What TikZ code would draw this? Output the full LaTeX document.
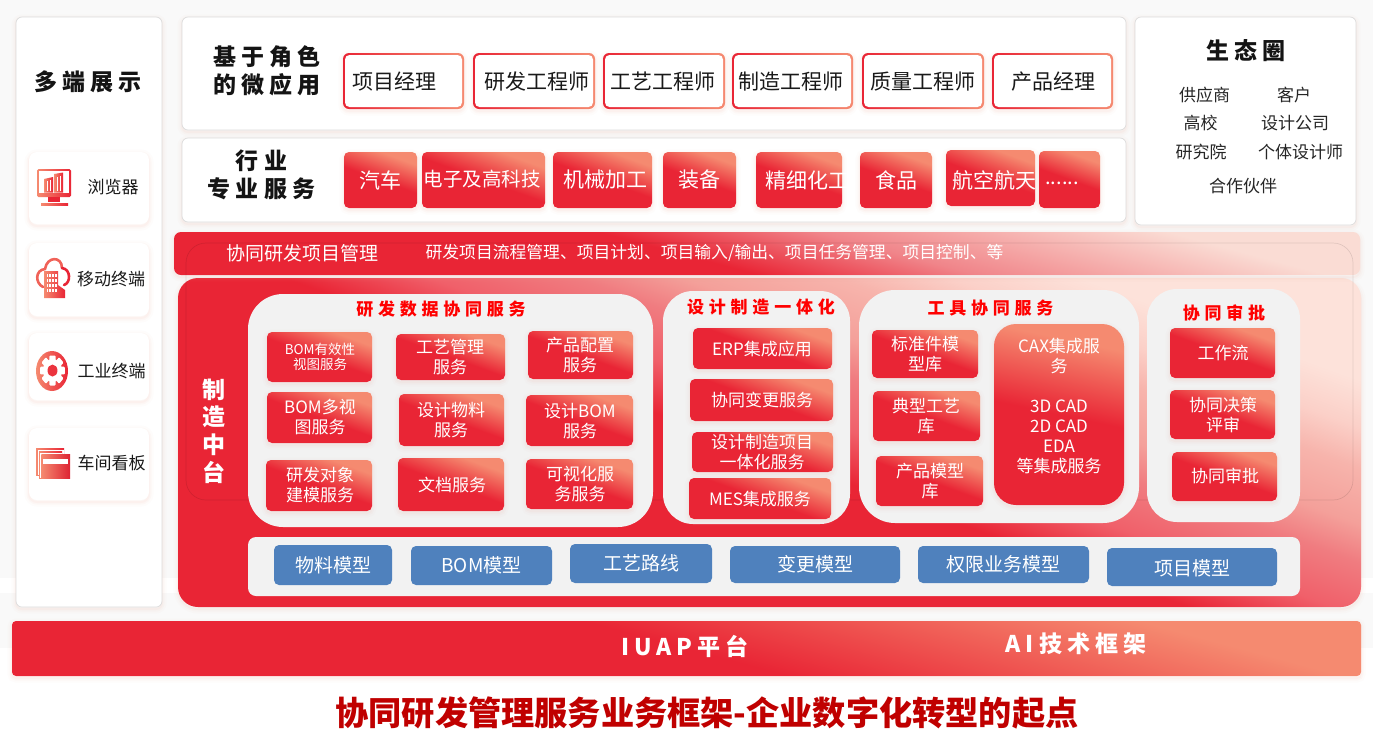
\documentclass[tikz,border=0pt]{standalone}
\usepackage{fontspec}
\setmainfont{Noto Sans CJK SC}
\definecolor{redm}{HTML}{E92535}
\definecolor{coral}{HTML}{F58A70}
\definecolor{panelg}{HTML}{F2F2F2}
\definecolor{bluem}{HTML}{4F81BD}
\definecolor{bgg}{HTML}{F9F9F9}
\definecolor{edgeg}{HTML}{DCDCDC}
\definecolor{shad}{HTML}{F0A898}
\definecolor{titler}{HTML}{C00000}
\definecolor{platA}{HTML}{F0606A}
\definecolor{platB}{HTML}{F07C80}
\definecolor{platC}{HTML}{F4A09A}
\definecolor{platD}{HTML}{F7B4AC}
\definecolor{platE}{HTML}{FBD0C8}
\definecolor{platF}{HTML}{FDE2DA}
\definecolor{bandA}{HTML}{F0858A}
\definecolor{bandB}{HTML}{F4A0A0}
\definecolor{bandC}{HTML}{FADCD4}
\pgfdeclareverticalshading{btnshade}{100bp}{color(0bp)=(redm);color(50bp)=(redm);color(72bp)=(coral);color(100bp)=(coral)}
\pgfdeclareverticalshading{platshade}{100bp}{color(0bp)=(redm);color(49bp)=(redm);color(53.5bp)=(platA);color(58bp)=(platB);color(61.3bp)=(platC);color(66bp)=(platD);color(69.5bp)=(platE);color(73.5bp)=(platF);color(100bp)=(platF)}
\pgfdeclareverticalshading{bandshade}{100bp}{color(0bp)=(redm);color(46bp)=(redm);color(56bp)=(bandA);color(61bp)=(bandB);color(72bp)=(bandC);color(100bp)=(bandC)}
\pgfdeclareverticalshading{iuapshade}{100bp}{color(0bp)=(redm);color(50bp)=(redm);color(72bp)=(coral);color(100bp)=(coral)}
\tikzset{
  softshadow/.style={
    preaction={draw=shad,draw opacity=.03,line width=9pt,transform canvas={yshift=-2pt}},
    preaction={draw=shad,draw opacity=.05,line width=5pt,transform canvas={yshift=-2pt}},
    preaction={draw=shad,draw opacity=.07,line width=2pt,transform canvas={yshift=-2pt}}},
  panelbox/.style={softshadow,fill=white,draw=edgeg,line width=.7pt,rounded corners=6pt},
  cardbox/.style={softshadow,fill=white,rounded corners=8pt},
  groupbox/.style={fill=panelg},
  btnbox/.style={softshadow,shade,shading=btnshade,shading angle=-20,rounded corners=5pt},
  rolebox/.style={softshadow,left color=redm,right color=coral,rounded corners=6pt},
  roleinner/.style={fill=white,rounded corners=4.5pt},
  bluebox/.style={fill=bluem,rounded corners=5pt},
  btntext/.style={text=white,inner sep=0pt,align=center,font=\fontsize{17}{20}\selectfont},
  bigtext/.style={text=white,inner sep=0pt,align=center,font=\fontsize{21}{25}\selectfont},
  smalltext/.style={text=white,inner sep=0pt,align=center,font=\fontsize{13.5}{15}\selectfont},
  rolename/.style={text=black!90,inner sep=0pt,font=\fontsize{21}{25}\selectfont},
  bluetext/.style={text=white,inner sep=0pt,font=\fontsize{19}{23}\selectfont},
  ecotext/.style={text=black!85,inner sep=0pt,font=\fontsize{17}{20}\selectfont},
  cardtext/.style={text=black!90,inner sep=0pt,font=\fontsize{17}{20}\selectfont},
  headtext/.style={text=black!92,inner sep=0pt,align=center,font=\bfseries\fontsize{23}{28}\selectfont\addfontfeature{LetterSpace=23}},
  grouptitle/.style={text=red,inner sep=0pt,font=\bfseries\fontsize{17}{20}\selectfont\addfontfeature{LetterSpace=28}},
  whitehead/.style={text=white,inner sep=0pt,align=center,font=\bfseries\fontsize{23}{27.6}\selectfont},
  bartext/.style={text=white,inner sep=0pt,font=\bfseries\fontsize{23}{27}\selectfont\addfontfeature{LetterSpace=22}},
  iconfill/.style={left color=coral,right color=redm},
}
% name, x1,y1,x2,y2, tx,ty, style, text
\newcommand{\mybtn}[9]{%
  \path[btnbox] (#2,#3) rectangle (#4,#5);
  \node[#8] (#1) at (#6,#7) {#9};}
\newcommand{\myrole}[7]{%
  \path[rolebox] (#2,#3) rectangle (#4,#5);
  \path[roleinner] ({#2+2},{#3+2}) rectangle ({#4-2},{#5-2});
  \node[rolename] (#1) at (#6,81.5) {#7};}
\newcommand{\myblue}[7]{%
  \path[bluebox] (#2,#3) rectangle (#4,#5);
  \node[bluetext] (#1) at ({(#2+#4)/2},#6) {#7};}
\begin{document}
\begin{tikzpicture}[x=1pt,y=-1pt]
\useasboundingbox (0,0) rectangle (1373,753);
% background
\fill[bgg] (0,0) rectangle (1373,648);
\fill[white] (0,648) rectangle (1373,753);
\fill[white] (0,578) rectangle (1373,593);

% panels
\path[panelbox] (16,17) rectangle (162,607);
\path[panelbox] (182,17) rectangle (1126,130);
\path[panelbox] (182,138) rectangle (1126,222);
\path[panelbox] (1135,17) rectangle (1356,225);

% left column
\node[headtext] (multi) at (88,82) {多端展示};
\path[cardbox] (29,152) rectangle (149,224);
\path[cardbox] (29,243) rectangle (149,316);
\path[cardbox] (29,333) rectangle (149,400);
\path[cardbox] (29,428) rectangle (149,500);
\node[cardtext] (browser) at (113,187) {浏览器};
\node[cardtext] (mobile) at (111,279) {移动终端};
\node[cardtext] (industry) at (111.5,371) {工业终端};
\node[cardtext] (kanban) at (111.5,463) {车间看板};

% monitor icon
\path[iconfill,rounded corners=1.5pt] (37,169) rectangle (71,197);
\fill[white] (39.2,171.2) rectangle (68.8,192.5);
\path[left color=coral,right color=redm] (44,192.5) -- (44,179) -- (53,177) -- (53,192.5) -- cycle;
\path[left color=coral,right color=redm] (54,192.5) -- (54,174) -- (63,172.5) -- (63,192.5) -- cycle;
\fill[white] (46.5,181) rectangle (47.3,191);
\fill[white] (49.5,180) rectangle (50.3,191);
\fill[white] (57,177) rectangle (57.8,191);
\fill[white] (60,176) rectangle (60.8,191);
\fill[redm] (48,197) -- (60,197) -- (60,202) -- (48,202) -- cycle;
\path[left color=coral,right color=redm] (41,203) rectangle (68,205);

% cloud icon
\draw[coral!60!redm,line width=2.6pt,line cap=round] (43,287) .. controls (35,283) and (35,270) .. (45,269) .. controls (47,256) and (62,256) .. (62,268);
\draw[redm,line width=2.6pt,line cap=round] (62,268) .. controls (71,269) and (71,283) .. (64,285);
\path[iconfill] (44,271) -- (58,271) -- (58,285) -- (65,290) -- (65,298) -- (44,298) -- cycle;
\foreach \i in {0,1,2,3}{\foreach \j in {0,1,2,3}{
  \fill[white] ({46.5+\i*2.9},{274+\j*5}) rectangle ({48.3+\i*2.9},{277+\j*5});}}

% gear icon
\path[iconfill] (52,371) ellipse [x radius=16,y radius=20];
\begin{scope}[shift={(52.5,370.5)},xscale=.83]
  \foreach \a in {0,45,...,135}{
    \fill[white,rotate=\a,rounded corners=1pt] (-3.8,-15) rectangle (3.8,15);}
  \fill[white] (0,0) circle (11.5);
  \fill[redm!85!coral] (0,0) circle (6);
\end{scope}

% kanban icon
\path[iconfill] (36,448) rectangle (64,475);
\fill[white] (37.7,449.7) rectangle (64,475);
\path[iconfill] (39,451.5) rectangle (62,478);
\fill[white] (40.4,452.9) rectangle (62,478);
\path[left color=coral,right color=redm!95!black] (41.3,454) rectangle (70,478.5);
\fill[white] (43,459) rectangle (68,464);

% top titles
\node[headtext] (roles) at (267,71) {基于角色\\的微应用};
\node[headtext] (indus) at (261.5,175) {行业\\专业服务};

% roles
\myrole{r1}{343}{53}{464}{109}{394}{项目经理}
\myrole{r2}{473}{53}{595}{109}{537}{研发工程师}
\myrole{r3}{603}{53}{725}{109}{663}{工艺工程师}
\myrole{r4}{732}{53}{853}{109}{791}{制造工程师}
\myrole{r5}{862}{53}{984}{109}{923}{质量工程师}
\myrole{r6}{992}{53}{1113}{109}{1053.5}{产品经理}

% industry services
\mybtn{i1}{344}{152}{417}{208}{380}{180}{bigtext}{汽车}
\mybtn{i2}{422}{152}{545}{208}{482}{179}{bigtext,font=\fontsize{19.5}{24}\selectfont}{电子及高科技}
\mybtn{i3}{553}{152}{652}{208}{605}{180}{bigtext}{机械加工}
\mybtn{i4}{663}{152}{736}{208}{699}{180}{bigtext}{装备}
\mybtn{i5}{756}{152}{842}{208}{807}{180}{bigtext}{精细化工}
\mybtn{i6}{860}{152}{932}{208}{896}{180}{bigtext}{食品}
\mybtn{i7}{946}{150}{1035}{206}{994}{180}{bigtext}{航空航天}
\mybtn{i8}{1039}{151}{1100}{208}{1062}{183}{bigtext,font=\fontsize{20}{24}\selectfont}{......}

% ecosystem
\node[headtext] (eco) at (1246,51) {生态圈};
\node[ecotext] (e1) at (1204.5,95) {供应商};
\node[ecotext] (e2) at (1294,95) {客户};
\node[ecotext] (e3) at (1200.5,123) {高校};
\node[ecotext] (e4) at (1295,123) {设计公司};
\node[ecotext] (e5) at (1201,152) {研究院};
\node[ecotext] (e6) at (1300.5,152) {个体设计师};
\node[ecotext] (e7) at (1243,186) {合作伙伴};

% platform
\path[softshadow,shade,shading=platshade,shading angle=-20,rounded corners=20pt] (178,278) rectangle (1361,607);
% band
\path[softshadow,shade,shading=bandshade,shading angle=-15,rounded corners=7pt] (174,232) rectangle (1360,275);
% faint frame
\path[draw=black,draw opacity=.1,line width=.7pt,rounded corners=20pt] (186,243) rectangle (1353,500);
\node[text=white,inner sep=0pt,font=\fontsize{19}{23}\selectfont] (bandhead) at (302.5,253) {协同研发项目管理};
\node[text=white,inner sep=0pt,font=\fontsize{16.8}{20}\selectfont] (banddesc) at (714.5,253) {研发项目流程管理、项目计划、项目输入/输出、项目任务管理、项目控制、等};

\node[whitehead] (plat) at (214,431) {制\\造\\中\\台};

% groups
\path[groupbox,rounded corners=35pt] (248,294) rectangle (653,527);
\path[groupbox,rounded corners=30pt] (663,291) rectangle (850,524);
\path[groupbox,rounded corners=36pt] (859,290) rectangle (1139,523);
\path[groupbox,rounded corners=30pt] (1147,289) rectangle (1300,522);
\path[groupbox,rounded corners=8pt] (248,537) rectangle (1300,596);
\node[grouptitle] (g1) at (441,309) {研发数据协同服务};
\node[grouptitle] (g2) at (761,307) {设计制造一体化};
\node[grouptitle] (g3) at (990.5,308) {工具协同服务};
\node[grouptitle] (g4) at (1224,313) {协同审批};

% group 1
\mybtn{a1}{267}{332}{372}{382}{320}{356.5}{smalltext}{BOM有效性\\视图服务}
\mybtn{a2}{396}{334}{505}{380}{450}{357}{btntext}{工艺管理\\服务}
\mybtn{a3}{528}{331}{633}{379}{580}{355}{btntext}{产品配置\\服务}
\mybtn{a4}{267}{392}{372}{443}{320}{417}{btntext}{BOM多视\\图服务}
\mybtn{a5}{399}{394}{504}{446}{451}{420}{btntext}{设计物料\\服务}
\mybtn{a6}{526}{395}{633}{446}{580}{421}{btntext}{设计BOM\\服务}
\mybtn{a7}{266}{460}{372}{511}{320}{485}{btntext}{研发对象\\建模服务}
\mybtn{a8}{398}{458}{504}{511}{452}{485}{btntext}{文档服务}
\mybtn{a9}{526}{459}{633}{509}{580}{484}{btntext}{可视化服\\务服务}

% group 2
\mybtn{b1}{693}{328}{832}{369}{762}{349}{btntext}{ERP集成应用}
\mybtn{b2}{690}{379}{833}{421}{762}{400}{btntext}{协同变更服务}
\mybtn{b3}{692}{432}{833}{472}{762}{452}{btntext}{设计制造项目\\一体化服务}
\mybtn{b4}{689}{478}{831}{519}{760}{499}{btntext}{MES集成服务}

% group 3
\mybtn{c1}{872}{330}{978}{378}{925}{354}{btntext}{标准件模\\型库}
\mybtn{c2}{873}{391}{980}{441}{926}{416}{btntext}{典型工艺\\库}
\mybtn{c3}{876}{456}{983}{506}{930}{481}{btntext}{产品模型\\库}
\path[btnbox,shading angle=-12,rounded corners=22pt] (994,324) rectangle (1124,505);
\node[btntext] (c4) at (1059,406) {CAX集成服\\务\\[20pt]3D CAD\\2D CAD\\EDA\\等集成服务};

% group 4
\mybtn{d1}{1170}{328}{1275}{378}{1223}{353}{btntext}{工作流}
\mybtn{d2}{1170}{390}{1275}{439}{1223}{415}{btntext}{协同决策\\评审}
\mybtn{d3}{1172}{452}{1277}{501}{1225}{476}{btntext}{协同审批}

% models
\myblue{m1}{274}{545}{392}{585}{565}{物料模型}
\myblue{m2}{411}{546}{552}{585}{565}{BOM模型}
\myblue{m3}{570}{544}{712}{583}{563.5}{工艺路线}
\myblue{m4}{730}{546}{900}{583}{564}{变更模型}
\myblue{m5}{918}{546}{1089}{583}{564}{权限业务模型}
\myblue{m6}{1107}{548}{1277}{586}{568}{项目模型}

% iuap
\path[softshadow,shade,shading=iuapshade,shading angle=-15,rounded corners=4pt] (12,621) rectangle (1361,676);
\node[bartext] (iuap) at (685,646) {IUAP平台};
\node[bartext] (ai) at (1076,644) {AI技术框架};

% title
\node[text=titler,inner sep=0pt,font=\bfseries\fontsize{33.2}{40}\selectfont] (maintitle) at (707,713) {协同研发管理服务业务框架-企业数字化转型的起点};
\end{tikzpicture}
\end{document}
